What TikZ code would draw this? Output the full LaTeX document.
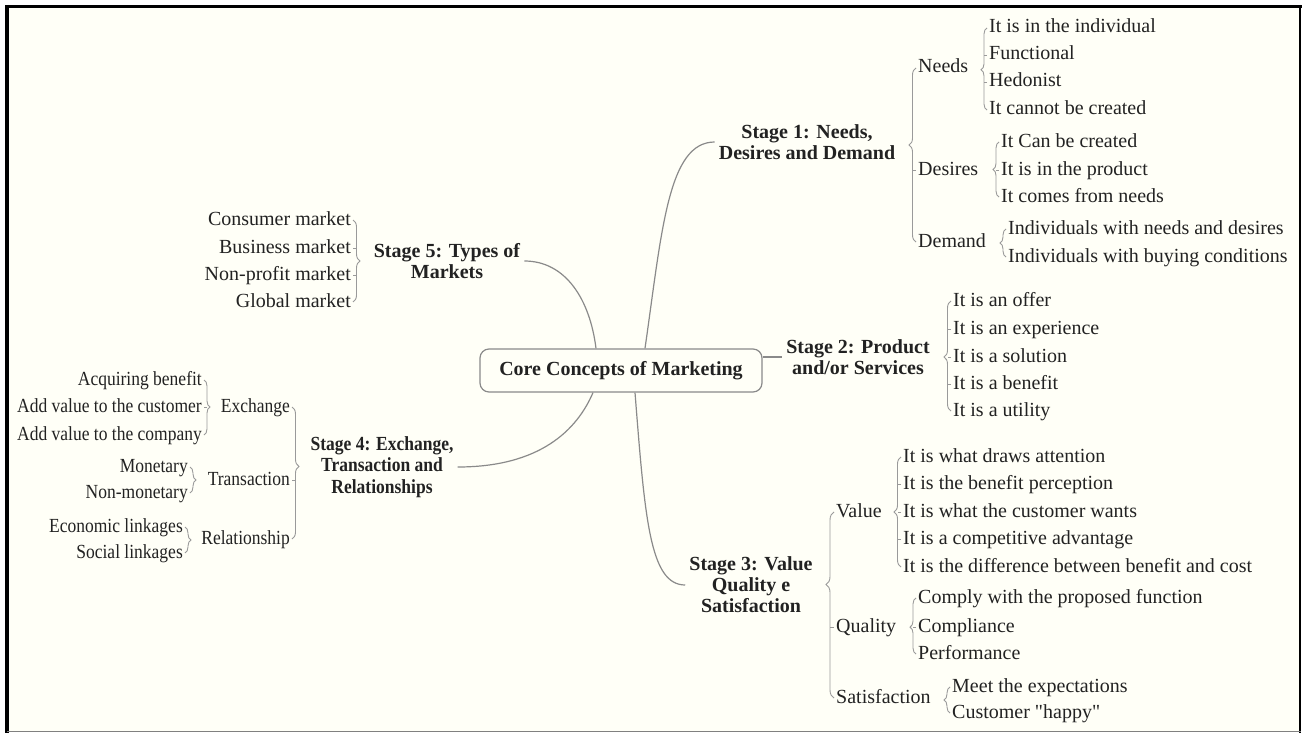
\documentclass[tikz,border=0pt]{standalone}
\usepackage{fontspec}
\setmainfont{Liberation Serif}
\newfontfamily\narrowserif[FakeStretch=0.875]{Liberation Serif}
\usetikzlibrary{decorations.pathreplacing,calc}
\definecolor{bg}{HTML}{FFFFF7}
\definecolor{lnc}{HTML}{8A8A8A}
\definecolor{brcol}{HTML}{9A9A9A}
\definecolor{txt}{HTML}{222222}
\begin{document}
\begin{tikzpicture}[x=1pt,y=-1pt,
  leaf/.style={inner sep=0pt, text=txt, font=\fontsize{20}{24}\selectfont, text height=13pt, text depth=3pt},
  lw/.style={leaf, anchor=west},
  le/.style={leaf, anchor=east, font=\narrowserif\fontsize{20}{24}\selectfont},
  stagebox/.style={inner sep=4pt, align=center, font=\bfseries\fontsize{20}{21}\selectfont, text=txt},
  conn/.style={draw=lnc, line width=1.2pt},
  brc/.style={draw=brcol, line width=0.9pt, decorate, decoration={brace, amplitude=6pt, aspect=0.5}},
  tk/.style={draw=brcol, line width=0.9pt}
]
\useasboundingbox (0,0) rectangle (1303,733);
\fill[white] (0,0) rectangle (1303,733);
\fill[bg] (7,7) rectangle (1300,731);
\draw[black, line width=4pt] (7,5) -- (7,733);
\draw[black, line width=3.5pt] (5,6.75) -- (1301.5,6.75);
\draw[black, line width=2.5pt] (1300,5) -- (1300,733);
\draw[gray, line width=1.5pt] (7,731.5) -- (1301,731.5);

% central node
\node[draw=lnc, line width=1.2pt, rounded corners=9pt, minimum width=282pt, minimum height=43pt,
  font=\bfseries\fontsize{20}{24}\selectfont, text=txt] (core) at (621,370.5) {Core Concepts of Marketing};

% stage nodes
\node[stagebox] (s1) at (807,142) {Stage 1: Needs,\\Desires and Demand};
\node[stagebox] (s2) at (858,357) {Stage 2: Product\\and/or Services};
\node[stagebox] (s3) at (751,585) {Stage 3: Value\\Quality e\\Satisfaction};
\node[stagebox, font=\narrowserif\bfseries\fontsize{20}{21.5}\selectfont] (s4) at (382,467) {Stage 4: Exchange,\\Transaction and\\Relationships};
\node[stagebox] (s5) at (447,261) {Stage 5: Types of\\Markets};

% connectors
\draw[conn] ([xshift=24pt]core.north) .. controls (662,230) and (668,142) .. (s1.west);
\draw[conn] (s2.west -| core.east) -- (s2.west);
\draw[conn] ([xshift=14pt]core.south) .. controls (645,520) and (650,585) .. (s3.west);
\draw[conn] (s4.east) .. controls (540,467) and (577,430) .. ([xshift=-28pt]core.south);
\draw[conn] (s5.east) .. controls (566,261) and (590,300) .. ([xshift=-25pt]core.north);

% Stage 1
\node[lw] (needs) at (918,68) {Needs};
\node[lw] (desires) at (918,170) {Desires};
\node[lw] (demand) at (918,242) {Demand};
\node[lw] (n1) at (989,28) {It is in the individual};
\node[lw] (n2) at (989,55) {Functional};
\node[lw] (n3) at (989,82) {Hedonist};
\node[lw] (n4) at (989,110) {It cannot be created};
\node[lw] (d1) at (1001,142) {It Can be created};
\node[lw] (d2) at (1001,170) {It is in the product};
\node[lw] (d3) at (1001,197) {It comes from needs};
\node[lw] (m1) at (1008,229) {Individuals with needs and desires};
\node[lw] (m2) at (1008,257) {Individuals with buying conditions};
\draw[brc, decoration={amplitude=7pt, aspect=0.557}] ([xshift=-2pt]demand.west) -- ([xshift=-2pt]needs.west);
\draw[tk] ([xshift=-2pt]desires.west) -- ++(-3.5,0);
\draw[brc, decoration={aspect=0.49}] ([xshift=-2pt]n4.west) -- ([xshift=-2pt]n1.west);
\draw[tk] ([xshift=-2pt]n2.west) -- ++(-3,0);
\draw[tk] ([xshift=-2pt]n3.west) -- ++(-3,0);
\draw[brc] ([xshift=-2pt]d3.west) -- ([xshift=-2pt]d1.west);
\draw[tk] ([xshift=-2pt]d2.west) -- ++(-3,0);
\draw[brc] ([xshift=-2pt]m2.west) -- ([xshift=-2pt]m1.west);

% Stage 2
\node[lw] (p1) at (953,301) {It is an offer};
\node[lw] (p2) at (953,329) {It is an experience};
\node[lw] (p3) at (953,357) {It is a solution};
\node[lw] (p4) at (953,384) {It is a benefit};
\node[lw] (p5) at (953,411) {It is a utility};
\draw[brc, decoration={amplitude=7pt, aspect=0.49}] ([xshift=-2pt]p5.west) -- ([xshift=-2pt]p1.west);
\foreach \n in {p2,p3,p4} \draw[tk] ([xshift=-2pt]\n.west) -- ++(-3.5,0);

% Stage 3
\node[lw] (value) at (836,512) {Value};
\node[lw] (quality) at (836,627) {Quality};
\node[lw] (satis) at (836,698) {Satisfaction};
\node[lw] (v1) at (903,457) {It is what draws attention};
\node[lw] (v2) at (903,484) {It is the benefit perception};
\node[lw] (v3) at (903,512) {It is what the customer wants};
\node[lw] (v4) at (903,539) {It is a competitive advantage};
\node[lw] (v5) at (903,567) {It is the difference between benefit and cost};
\node[lw] (q1) at (918,598) {Comply with the proposed function};
\node[lw] (q2) at (918,627) {Compliance};
\node[lw] (q3) at (918,654) {Performance};
\node[lw] (t1) at (952,687) {Meet the expectations};
\node[lw] (t2) at (952,713) {\addfontfeatures{Ligatures=TeXOff}Customer "happy"};
\draw[brc, decoration={amplitude=8pt, aspect=0.61}] ([xshift=-2pt]satis.west) -- ([xshift=-2pt]value.west);
\draw[tk] ([xshift=-2pt]quality.west) -- ++(-4,0);
\draw[brc, decoration={amplitude=7pt}] ([xshift=-2pt]v5.west) -- ([xshift=-2pt]v1.west);
\foreach \n in {v2,v3,v4} \draw[tk] ([xshift=-2pt]\n.west) -- ++(-3.5,0);
\draw[brc, decoration={aspect=0.48}] ([xshift=-2pt]q3.west) -- ([xshift=-2pt]q1.west);
\draw[tk] ([xshift=-2pt]q2.west) -- ++(-3,0);
\draw[brc] ([xshift=-2pt]t2.west) -- ([xshift=-2pt]t1.west);

% Stage 4
\node[le] (exch) at (290,407) {Exchange};
\node[le] (trans) at (290,480) {Transaction};
\node[le] (rel) at (290,539) {Relationship};
\node[le] (e1) at (202,380) {Acquiring benefit};
\node[le] (e2) at (202,407) {Add value to the customer};
\node[le] (e3) at (202,435) {Add value to the company};
\node[le] (tr1) at (188,467) {Monetary};
\node[le] (tr2) at (188,493) {Non-monetary};
\node[le] (r1) at (183,527) {Economic linkages};
\node[le] (r2) at (183,553) {Social linkages};
\draw[brc, decoration={amplitude=7pt, aspect=0.45}] ([xshift=2pt]exch.east) -- ([xshift=2pt]rel.east);
\draw[tk] ([xshift=2pt]trans.east) -- ++(3.5,0);
\draw[brc, decoration={aspect=0.49}] ([xshift=2pt]e1.east) -- ([xshift=2pt]e3.east);
\draw[tk] ([xshift=2pt]e2.east) -- ++(3,0);
\draw[brc] ([xshift=2pt]tr1.east) -- ([xshift=2pt]tr2.east);
\draw[brc] ([xshift=2pt]r1.east) -- ([xshift=2pt]r2.east);

% Stage 5
\node[lw, anchor=east] (c1) at (351,220) {Consumer market};
\node[lw, anchor=east] (c2) at (351,248) {Business market};
\node[lw, anchor=east] (c3) at (351,275) {Non-profit market};
\node[lw, anchor=east] (c4) at (351,302) {Global market};
\draw[brc, decoration={amplitude=7pt}] ([xshift=2pt]c1.east) -- ([xshift=2pt]c4.east);
\draw[tk] ([xshift=2pt]c2.east) -- ++(3.5,0);
\draw[tk] ([xshift=2pt]c3.east) -- ++(3.5,0);
\end{tikzpicture}
\end{document}
